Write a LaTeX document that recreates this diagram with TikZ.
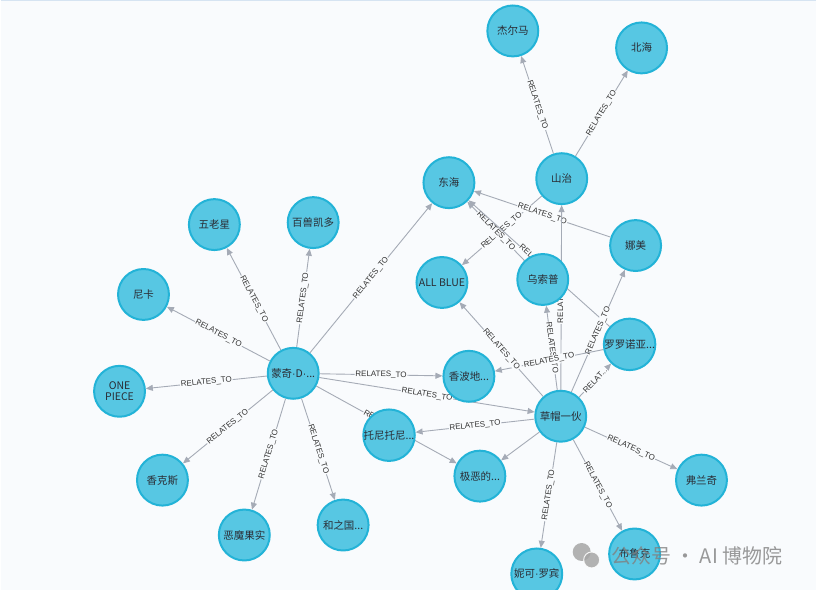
\documentclass[tikz,border=0pt]{standalone}
\usepackage{fontspec}
\setmainfont{Liberation Sans}
\newfontfamily\cjk{Noto Sans CJK SC}
\usetikzlibrary{arrows.meta}

\definecolor{bgcol}{RGB}{249,251,253}
\definecolor{nodefill}{RGB}{87,199,227}
\definecolor{nodeline}{RGB}{35,179,215}
\definecolor{nodetext}{RGB}{42,44,52}
\definecolor{edgecol}{RGB}{165,171,182}
\definecolor{lbltext}{RGB}{50,50,50}
\definecolor{topline}{RGB}{214,228,242}

\newcommand\md{{\rmfamily ·}}

\pgfdeclarelayer{back}
\pgfdeclarelayer{edges}
\pgfsetlayers{back,edges,main}

\tikzset{
  ent/.style={circle,minimum size=51pt,inner sep=0pt,fill=nodefill,draw=nodeline,
    line width=2pt,text=nodetext,align=center,font=\cjk\fontsize{10.5}{11}\selectfont},
  rel/.style={draw=edgecol,line width=0.9pt,-{Triangle[length=7pt,width=6pt]}},
  lbl/.style={sloped,fill=bgcol,inner sep=0.8pt,text=lbltext,font=\fontsize{8}{9}\selectfont}
}

\begin{document}
\begin{tikzpicture}[x=1pt,y=-1pt]

\begin{pgfonlayer}{back}
\fill[bgcol] (0,0) rectangle (817,591);
\draw[topline,line width=1.5pt] (0,0.75) -- (817,0.75);
\end{pgfonlayer}
\useasboundingbox (0,0) rectangle (817,591);

% entities
\def\ents{germa/513/31/{杰尔马},north/642/48/{北海},sanji/562/179/{山治},
  east/449/183/{东海},nami/636/246/{娜美},allblue/442/283/{ALL BLUE},
  usopp/543/280/{乌索普},zoro/630/345/{罗罗诺亚...},sabaody/469/377/{香波地...},
  strawhat/561/417/{草帽一伙},chopper/389/436/{托尼托尼...},worst/480/477/{极恶的...},
  franky/702/481/{弗兰奇},brook/635/555/{布鲁克},robin/537/575/{妮可\md 罗宾},
  gorosei/214/225/{五老星},kaido/313/223/{百兽凯多},nika/143/295/{尼卡},
  luffy/293/374/{蒙奇\md D\md ...},onepiece/119/392/{ONE\\PIECE},shanks/162/481/{香克斯},
  devil/244/536/{恶魔果实},wano/343/526/{和之国...}}
\foreach \n/\x/\y/\t in \ents
  \node [ent] (\n) at (\x,\y) {\t};

% relations
\begin{pgfonlayer}{edges}
\foreach \a/\b in {sanji/germa,sanji/north,sanji/allblue,nami/east,usopp/east,zoro/east,
  strawhat/sanji,strawhat/usopp,strawhat/nami,zoro/sabaody,strawhat/allblue,
  strawhat/chopper,strawhat/franky,strawhat/brook,strawhat/robin,
  luffy/east,luffy/sabaody,luffy/strawhat,luffy/worst,luffy/wano,luffy/devil,
  luffy/shanks,luffy/onepiece,luffy/nika,luffy/gorosei,luffy/kaido}
  \draw [rel] (\a) -- node [lbl] {RELATES\_TO} (\b);
\draw [rel] (strawhat) -- node [lbl] {RELAT...} (zoro);
\draw [rel] (strawhat) -- (worst);
\end{pgfonlayer}

% watermark
\fill [gray!70,opacity=0.85] (582,553) circle (9);
\fill [gray!70,opacity=0.85,draw=white,line width=1pt] (592,561) circle (8);
\node [anchor=west,text=gray,opacity=0.8,font=\cjk\fontsize{20}{22}\selectfont] (mark) at (608,557) {公众号 · AI 博物院};

\end{tikzpicture}
\end{document}
